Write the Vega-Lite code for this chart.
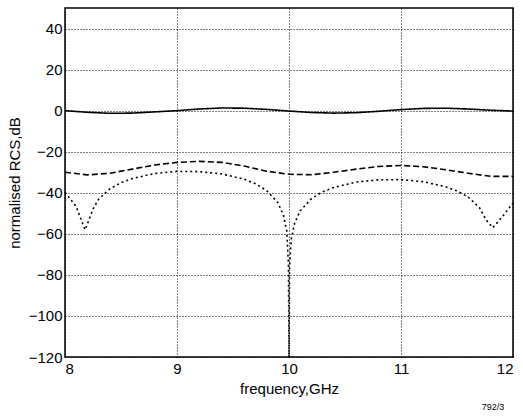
{
  "$schema": "https://vega.github.io/schema/vega-lite/v6.json",
  "autosize": {"type": "none"},
  "padding": {"left": 65, "top": 8, "right": 10, "bottom": 59},
  "width": 448,
  "height": 349,
  "background": "white",
  "config": {
    "font": "Liberation Sans",
    "view": {"stroke": "black", "strokeWidth": 1.5},
    "axis": {
      "grid": true,
      "gridColor": "black",
      "gridDash": [1, 2],
      "gridOpacity": 1,
      "gridWidth": 1,
      "domain": false,
      "tickColor": "black",
      "tickSize": 0,
      "labelColor": "black",
      "labelFontSize": 15,
      "titleColor": "black",
      "titleFontSize": 15,
      "titleFontWeight": "normal"
    }
  },
  "title": {"text": "792/3", "orient": "bottom", "anchor": "end", "fontSize": 9, "fontWeight": "normal", "color": "black", "offset": 7, "dx": -12},
  "data": {
    "values": [
      {"f": 8.0, "db": 0, "s": "solid"},
      {"f": 8.2, "db": -0.8, "s": "solid"},
      {"f": 8.4, "db": -1.3, "s": "solid"},
      {"f": 8.6, "db": -1.2, "s": "solid"},
      {"f": 8.8, "db": -0.6, "s": "solid"},
      {"f": 9.0, "db": 0, "s": "solid"},
      {"f": 9.2, "db": 0.8, "s": "solid"},
      {"f": 9.4, "db": 1.3, "s": "solid"},
      {"f": 9.6, "db": 1.2, "s": "solid"},
      {"f": 9.8, "db": 0.6, "s": "solid"},
      {"f": 10.0, "db": -0.2, "s": "solid"},
      {"f": 10.2, "db": -0.9, "s": "solid"},
      {"f": 10.4, "db": -1.2, "s": "solid"},
      {"f": 10.6, "db": -1.0, "s": "solid"},
      {"f": 10.8, "db": -0.3, "s": "solid"},
      {"f": 11.0, "db": 0.5, "s": "solid"},
      {"f": 11.2, "db": 1.1, "s": "solid"},
      {"f": 11.4, "db": 1.2, "s": "solid"},
      {"f": 11.6, "db": 0.8, "s": "solid"},
      {"f": 11.8, "db": 0.2, "s": "solid"},
      {"f": 12.0, "db": -0.2, "s": "solid"},

      {"f": 8.0, "db": -30, "s": "dashed"},
      {"f": 8.2, "db": -31.3, "s": "dashed"},
      {"f": 8.4, "db": -30.5, "s": "dashed"},
      {"f": 8.6, "db": -28.5, "s": "dashed"},
      {"f": 8.8, "db": -26.5, "s": "dashed"},
      {"f": 9.0, "db": -25.2, "s": "dashed"},
      {"f": 9.2, "db": -24.7, "s": "dashed"},
      {"f": 9.4, "db": -25.2, "s": "dashed"},
      {"f": 9.6, "db": -27, "s": "dashed"},
      {"f": 9.8, "db": -29.5, "s": "dashed"},
      {"f": 10.0, "db": -31, "s": "dashed"},
      {"f": 10.2, "db": -31.2, "s": "dashed"},
      {"f": 10.4, "db": -30, "s": "dashed"},
      {"f": 10.6, "db": -28.5, "s": "dashed"},
      {"f": 10.8, "db": -27.2, "s": "dashed"},
      {"f": 11.0, "db": -26.7, "s": "dashed"},
      {"f": 11.2, "db": -27.3, "s": "dashed"},
      {"f": 11.4, "db": -28.8, "s": "dashed"},
      {"f": 11.6, "db": -30.5, "s": "dashed"},
      {"f": 11.8, "db": -32, "s": "dashed"},
      {"f": 12.0, "db": -32, "s": "dashed"},

      {"f": 8.0, "db": -39.8, "s": "dotted"},
      {"f": 8.1, "db": -46.7, "s": "dotted"},
      {"f": 8.15, "db": -54, "s": "dotted"},
      {"f": 8.18, "db": -58, "s": "dotted"},
      {"f": 8.25, "db": -47.9, "s": "dotted"},
      {"f": 8.3, "db": -43.2, "s": "dotted"},
      {"f": 8.4, "db": -38.1, "s": "dotted"},
      {"f": 8.5, "db": -35.1, "s": "dotted"},
      {"f": 8.6, "db": -33.1, "s": "dotted"},
      {"f": 8.8, "db": -30.6, "s": "dotted"},
      {"f": 9.0, "db": -29.6, "s": "dotted"},
      {"f": 9.2, "db": -29.7, "s": "dotted"},
      {"f": 9.4, "db": -30.8, "s": "dotted"},
      {"f": 9.6, "db": -33.4, "s": "dotted"},
      {"f": 9.7, "db": -35.6, "s": "dotted"},
      {"f": 9.8, "db": -38.9, "s": "dotted"},
      {"f": 9.9, "db": -44.8, "s": "dotted"},
      {"f": 9.95, "db": -50.8, "s": "dotted"},
      {"f": 9.98, "db": -58.7, "s": "dotted"},
      {"f": 9.995, "db": -75, "s": "dotted"},
      {"f": 10.0, "db": -120, "s": "dotted"},
      {"f": 10.005, "db": -76, "s": "dotted"},
      {"f": 10.02, "db": -62.7, "s": "dotted"},
      {"f": 10.05, "db": -54.8, "s": "dotted"},
      {"f": 10.1, "db": -48.8, "s": "dotted"},
      {"f": 10.2, "db": -42.9, "s": "dotted"},
      {"f": 10.3, "db": -39.5, "s": "dotted"},
      {"f": 10.4, "db": -37.4, "s": "dotted"},
      {"f": 10.6, "db": -34.8, "s": "dotted"},
      {"f": 10.8, "db": -33.7, "s": "dotted"},
      {"f": 11.0, "db": -33.6, "s": "dotted"},
      {"f": 11.2, "db": -34.6, "s": "dotted"},
      {"f": 11.4, "db": -37.1, "s": "dotted"},
      {"f": 11.5, "db": -39.1, "s": "dotted"},
      {"f": 11.6, "db": -42.1, "s": "dotted"},
      {"f": 11.7, "db": -47.2, "s": "dotted"},
      {"f": 11.76, "db": -53.2, "s": "dotted"},
      {"f": 11.82, "db": -57, "s": "dotted"},
      {"f": 11.9, "db": -52, "s": "dotted"},
      {"f": 12.0, "db": -45, "s": "dotted"}
    ]
  },
  "mark": {"type": "line", "color": "black", "strokeWidth": 1.6},
  "encoding": {
    "x": {
      "field": "f", "type": "quantitative",
      "scale": {"domain": [8, 12], "nice": false, "zero": false},
      "axis": {"values": [8, 9, 10, 11, 12], "title": "frequency,GHz", "labelPadding": 4, "titlePadding": 5}
    },
    "y": {
      "field": "db", "type": "quantitative",
      "scale": {"domain": [-120, 50], "nice": false, "zero": false},
      "axis": {"values": [-120, -100, -80, -60, -40, -20, 0, 20, 40], "title": "normalised RCS,dB", "labelPadding": 3, "titlePadding": 6}
    },
    "detail": {"field": "s"},
    "strokeDash": {
      "field": "s", "type": "nominal",
      "scale": {"domain": ["solid", "dashed", "dotted"], "range": [[1, 0], [6, 3], [2, 3]]},
      "legend": null
    }
  }
}
